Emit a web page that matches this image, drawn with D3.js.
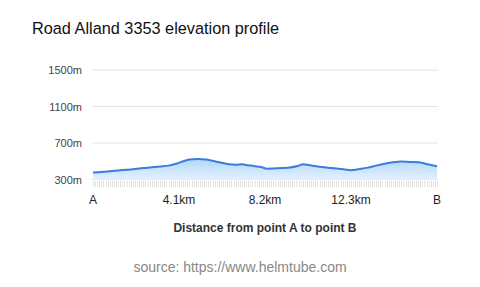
<!DOCTYPE html>
<html>
<head>
<meta charset="utf-8">
<script src="https://cdn.jsdelivr.net/npm/d3@7"></script>
<style>
  body { margin: 0; background: #fff; }
  text { font-family: "Liberation Sans", Arial, sans-serif; }
</style>
</head>
<body>
<div id="chart"></div>
<script>
// distance along the road (km) and elevation (m)
const distances = [0, 0.4, 0.8, 1.2, 1.6, 2.0, 2.4, 2.8, 3.2, 3.6, 4.0, 4.3, 4.6, 5.0, 5.4, 5.8, 6.2, 6.5, 6.8, 7.1, 7.4, 7.7, 8.0, 8.3, 8.6, 9.0, 9.4, 9.8, 10.0, 10.4, 10.8, 11.2, 11.6, 12.0, 12.3, 12.7, 13.1, 13.5, 13.9, 14.3, 14.7, 15.1, 15.5, 15.9, 16.4];
const elevations = [378, 383, 390, 398, 407, 415, 425, 433, 442, 452, 475, 500, 518, 524, 518, 500, 480, 466, 462, 466, 456, 446, 438, 418, 420, 425, 432, 450, 466, 454, 440, 430, 421, 410, 402, 415, 430, 452, 472, 488, 496, 492, 489, 470, 445];

const yTicks = [300, 700, 1100, 1500];
const xTicks = [0, 4.1, 8.2, 12.3, 16.4];
const xTickLabels = ["A", "4.1km", "8.2km", "12.3km", "B"];

const W = 480, H = 287;
const MARGIN = { TOP: 70, LEFT: 93, RIGHT: 43, BOTTOM: 107 };

const data = distances.map((d, i) => ({ d: d, e: elevations[i] }));

const svg = d3.select("#chart").append("svg")
  .attr("width", W)
  .attr("height", H);

const x = d3.scaleLinear()
  .domain([0, 16.4])
  .range([MARGIN.LEFT, W - MARGIN.RIGHT]);

const y = d3.scaleLinear()
  .domain([300, 1500])
  .range([179.5, 70]);

// title
svg.append("text")
  .attr("x", 32)
  .attr("y", 34)
  .attr("font-size", 16.3)
  .attr("fill", "#111")
  .text("Road Alland 3353 elevation profile");

// gridlines + y labels
svg.append("g")
  .selectAll("line")
  .data(yTicks)
  .join("line")
  .attr("x1", 92)
  .attr("x2", 438)
  .attr("y1", d => y(d))
  .attr("y2", d => y(d))
  .attr("stroke", "#e4e4e4")
  .attr("stroke-width", 1);

svg.append("g")
  .selectAll("text")
  .data(yTicks)
  .join("text")
  .attr("x", 82)
  .attr("y", d => y(d) + 4)
  .attr("text-anchor", "end")
  .attr("font-size", 11)
  .attr("fill", "#444")
  .text(d => d + "m");

// area gradient
const defs = svg.append("defs");
const grad = defs.append("linearGradient")
  .attr("id", "fillGrad")
  .attr("x1", 0).attr("y1", 0).attr("x2", 0).attr("y2", 1);
grad.append("stop").attr("offset", "0%").attr("stop-color", "#b3d7fa");
grad.append("stop").attr("offset", "100%").attr("stop-color", "#e3f1fe");

const area = d3.area()
  .x(d => x(d.d))
  .y0(y(300))
  .y1(d => y(d.e))
  .curve(d3.curveMonotoneX);

svg.append("path")
  .datum(data)
  .attr("d", area)
  .attr("fill", "url(#fillGrad)");

const line = d3.line()
  .x(d => x(d.d))
  .y(d => y(d.e))
  .curve(d3.curveMonotoneX);

svg.append("path")
  .datum(data)
  .attr("d", line)
  .attr("fill", "none")
  .attr("stroke", "#3b7ddd")
  .attr("stroke-width", 2);

// little tick marks under the baseline
svg.append("g")
  .selectAll("line")
  .data(d3.range(0, 16.41, 0.1))
  .join("line")
  .attr("x1", d => Math.round(x(d)) + 0.5)
  .attr("x2", d => Math.round(x(d)) + 0.5)
  .attr("y1", 181)
  .attr("y2", 187)
  .attr("stroke", "#e2e2e2")
  .attr("stroke-width", 1);

// x labels
svg.append("g")
  .selectAll("text")
  .data(xTicks)
  .join("text")
  .attr("x", d => x(d))
  .attr("y", 204)
  .attr("text-anchor", "middle")
  .attr("font-size", 12)
  .attr("fill", "#222")
  .text((d, i) => xTickLabels[i]);

svg.append("text")
  .attr("x", 265)
  .attr("y", 232)
  .attr("text-anchor", "middle")
  .attr("font-size", 12)
  .attr("font-weight", "bold")
  .attr("fill", "#333")
  .text("Distance from point A to point B");

svg.append("text")
  .attr("x", 240)
  .attr("y", 272)
  .attr("text-anchor", "middle")
  .attr("font-size", 14)
  .attr("fill", "#888")
  .text("source: https://www.helmtube.com");
</script>
</body>
</html>
